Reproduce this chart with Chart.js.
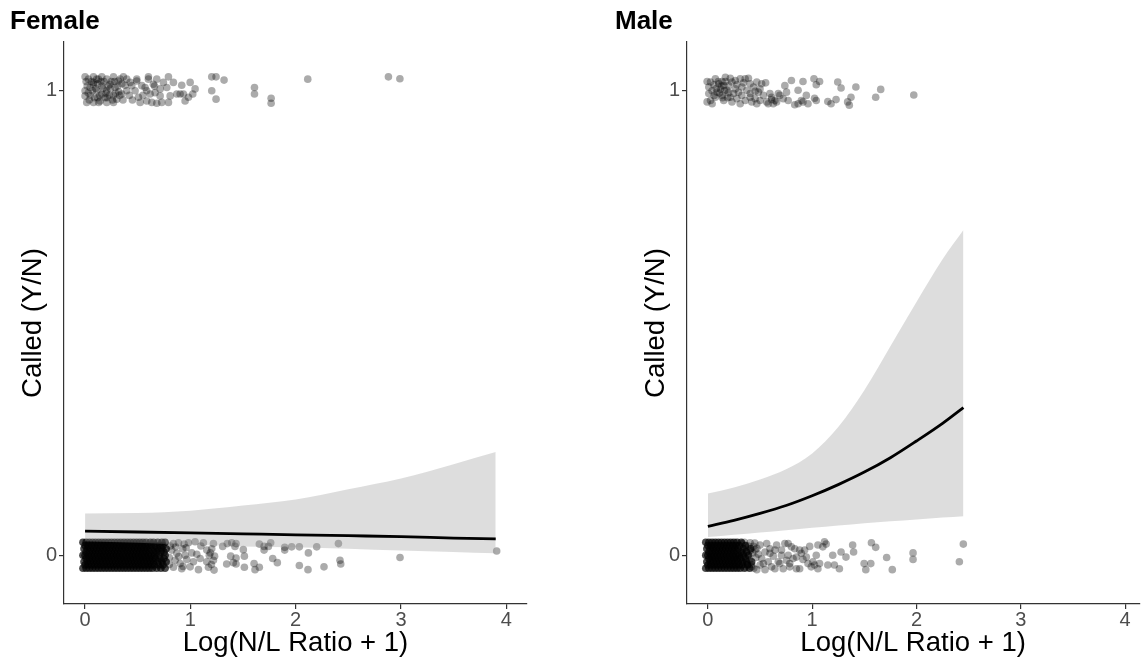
<!DOCTYPE html>
<html><head><meta charset="utf-8">
<script src="https://cdn.jsdelivr.net/npm/chart.js@4.4.1/dist/chart.umd.min.js"></script>
<style>
html,body{margin:0;padding:0;background:#fff;width:1143px;height:663px;overflow:hidden}
.panel{position:absolute;top:0;height:663px}
#p1{left:0;width:571px}
#p2{left:605px;width:538px}
</style></head><body>
<div class="panel" id="p1"><canvas id="c1"></canvas></div>
<div class="panel" id="p2"><canvas id="c2"></canvas></div>
<script>
// ---------- tick labels / titles ----------
const panelTitles = ["Female", "Male"];
const xTitle = "Log(N/L Ratio + 1)";
const yTitle = "Called (Y/N)";
const xTicks = [0, 1, 2, 3, 4];
const yTicks = [0, 1];

// ---------- fitted logistic curves ----------
const femaleFitX = [0, 0.5, 1, 1.5, 2, 2.5, 3, 3.5, 3.9];
const femaleFit  = [0.052, 0.050, 0.048, 0.046, 0.044, 0.042, 0.040, 0.037, 0.035];
const femaleUpper= [0.090, 0.091, 0.096, 0.107, 0.120, 0.142, 0.165, 0.196, 0.222];
const femaleLower= [0.030, 0.027, 0.023, 0.019, 0.017, 0.014, 0.010, 0.007, 0.004];

const maleFitX = [0, 0.25, 0.5, 0.75, 1, 1.25, 1.5, 1.75, 2, 2.25, 2.45];
const maleFit  = [0.062, 0.075, 0.090, 0.107, 0.128, 0.152, 0.179, 0.210, 0.246, 0.284, 0.318];
const maleUpper= [0.133, 0.146, 0.163, 0.185, 0.219, 0.276, 0.355, 0.450, 0.545, 0.637, 0.700];
const maleLower= [0.039, 0.044, 0.049, 0.054, 0.059, 0.064, 0.069, 0.073, 0.077, 0.081, 0.084];

// ---------- jittered observations ----------
// Female, called = 0, dense core (rows of jittered y, x positions per row)
const femaleNoCoreY = [-0.028, -0.021, -0.014, -0.007, 0, 0.007, 0.014, 0.021, 0.028];
const femaleNoCoreX = [
  [-0.02,0.01,0.04,0.07,0.10,0.13,0.16,0.19,0.22,0.25,0.28,0.31,0.34,0.37,0.40,0.43,0.46,0.49,0.52,0.55,0.58,0.61,0.64,0.68,0.72,0.76],
  [0.00,0.03,0.06,0.09,0.12,0.15,0.18,0.21,0.24,0.27,0.30,0.33,0.36,0.39,0.42,0.45,0.48,0.51,0.54,0.57,0.60,0.63,0.66,0.70,0.74],
  [-0.01,0.02,0.05,0.08,0.11,0.14,0.17,0.20,0.23,0.26,0.29,0.32,0.35,0.38,0.41,0.44,0.47,0.50,0.53,0.56,0.59,0.62,0.65,0.69,0.73,0.77],
  [0.01,0.04,0.07,0.10,0.13,0.16,0.19,0.22,0.25,0.28,0.31,0.34,0.37,0.40,0.43,0.46,0.49,0.52,0.55,0.58,0.61,0.64,0.67,0.71,0.75],
  [-0.02,0.00,0.03,0.06,0.09,0.12,0.15,0.18,0.21,0.24,0.27,0.30,0.33,0.36,0.39,0.42,0.45,0.48,0.51,0.54,0.57,0.60,0.63,0.66,0.70,0.76],
  [0.01,0.04,0.07,0.10,0.13,0.16,0.19,0.22,0.25,0.28,0.31,0.34,0.37,0.40,0.43,0.46,0.49,0.52,0.55,0.58,0.61,0.65,0.68,0.72,0.75],
  [-0.01,0.02,0.05,0.08,0.11,0.14,0.17,0.20,0.23,0.26,0.29,0.32,0.35,0.38,0.41,0.44,0.47,0.50,0.53,0.56,0.59,0.62,0.66,0.69,0.73,0.77],
  [0.00,0.03,0.06,0.09,0.12,0.15,0.18,0.21,0.24,0.27,0.30,0.33,0.36,0.39,0.42,0.45,0.48,0.51,0.54,0.57,0.60,0.63,0.67,0.71,0.74],
  [-0.02,0.01,0.04,0.07,0.10,0.13,0.16,0.19,0.22,0.25,0.28,0.31,0.34,0.37,0.40,0.43,0.46,0.49,0.52,0.55,0.58,0.62,0.65,0.69,0.73,0.76]
];
// Female, called = 0, scattered points
const femaleNoPts = [
  [0.839,0.025],[0.887,0.027],[0.941,0.024],[0.982,0.027],[1.045,0.029],[1.124,0.027],[1.219,0.025],
  [0.823,0.011],[0.871,0.004],[0.928,0.014],[1.013,0.005],[1.061,0.002],[1.156,0.011],[1.203,0.014],
  [0.855,-0.011],[0.903,-0.018],[0.966,-0.009],[1.029,-0.014],[1.093,-0.007],[1.156,-0.014],[1.219,-0.011],
  [0.839,-0.026],[0.918,-0.029],[0.998,-0.025],[1.077,-0.031],[1.172,-0.026],[1.225,-0.032],
  [0.80,-0.005],[0.81,0.020],[0.80,-0.020],[0.86,0.018],[0.89,-0.003],[0.95,0.000],[0.93,-0.024],
  [1.18,0.000],[1.19,0.005],[1.20,-0.020],[1.10,0.020],[1.23,-0.002],[0.96,0.016],
  [1.307,0.019],[1.351,0.025],[1.393,0.027],[1.434,0.025],[1.424,0.019],[1.503,0.012],
  [1.383,-0.002],[1.434,-0.006],[1.408,-0.016],[1.513,-0.002],[1.345,-0.019],[1.434,-0.019],[1.513,-0.026],
  [1.605,-0.018],[1.614,-0.031],[1.655,-0.026],[1.655,0.024],[1.700,0.019],[1.700,0.011],[1.763,0.027],[1.741,0.019],
  [1.782,-0.007],[1.826,-0.016],[1.896,0.017],[1.896,0.011],[1.962,0.018],[2.035,0.018],[2.121,0.005],[2.200,0.018],
  [2.035,-0.022],[2.117,-0.031],[2.269,-0.025],[2.406,0.025],[2.421,-0.011],[2.428,-0.019],
  [2.991,-0.005],[3.909,0.009]
];
// Female, called = 1
const femaleYesPts = [
  [0.000,1.030],[0.032,1.025],[0.080,1.030],[0.127,1.025],[0.159,1.030],[0.206,1.025],[0.270,1.030],[0.333,1.025],
  [0.364,1.030],[0.491,1.025],[0.602,1.030],[0.681,1.025],[0.792,1.030],
  [0.839,1.018],[0.918,1.012],[0.998,1.018],[1.045,1.004],[1.023,0.993],[0.950,0.978],[0.903,0.993],[0.808,0.989],
  [0.792,0.975],[0.728,0.975],[0.681,0.973],[0.634,0.975],[0.586,0.978],[0.523,0.975],[0.507,0.986],[0.475,1.000],
  [0.444,1.011],[0.396,1.000],[0.349,0.993],[0.301,0.982],[0.270,0.975],[0.206,0.975],[0.143,0.978],[0.080,0.975],
  [0.016,0.975],[0.000,0.989],[0.000,1.000],[0.048,1.007],[0.080,1.014],[0.111,1.000],[0.159,0.993],[0.206,1.000],
  [0.238,1.014],[0.285,1.007],[0.317,1.021],[0.396,1.025],[0.428,1.018],[0.491,1.021],[0.539,1.011],[0.586,1.000],
  [0.618,0.993],[0.665,0.996],[0.713,0.989],[0.713,1.004],[0.649,1.014],[0.602,1.025],[0.570,1.007],[0.744,1.018],
  [0.776,1.007],[0.871,0.993],[0.934,0.993],[0.982,0.986],
  [0.02,1.010],[0.05,0.990],[0.06,1.020],[0.09,0.985],[0.10,1.005],[0.12,1.015],[0.14,0.990],[0.17,1.005],
  [0.18,1.020],[0.19,0.985],[0.22,1.010],[0.23,0.990],[0.25,1.020],[0.26,0.980],[0.29,0.995],[0.31,1.010],
  [0.33,0.990],[0.35,1.015],[0.04,0.980],[0.13,0.975],[0.01,1.020],[0.11,1.025],[0.16,1.010],[0.21,0.985],
  [0.42,0.990],[0.45,0.980],[0.55,0.990],[0.66,1.010],
  [0.03,0.995],[0.07,1.000],[0.15,1.020],[0.20,0.995],[0.24,1.005],[0.28,1.020],[0.32,0.998],[0.38,1.012],
  [0.08,1.018],[0.12,0.985],[0.27,0.990],[0.36,0.980],
  [1.203,1.030],[1.244,1.030],[1.320,1.023],[1.203,1.000],[1.244,0.982],[1.609,1.007],[1.609,0.993],
  [1.767,0.984],[1.767,0.973],[2.115,1.025],[2.881,1.030],[2.990,1.026]
];

// Male, called = 0, dense core
const maleNoCoreY = [-0.028, -0.021, -0.014, -0.007, 0, 0.007, 0.014, 0.021, 0.028];
const maleNoCoreX = [
  [-0.02,0.01,0.04,0.07,0.10,0.13,0.16,0.19,0.22,0.25,0.28,0.31,0.35,0.40],
  [0.00,0.03,0.06,0.09,0.12,0.15,0.18,0.21,0.24,0.27,0.30,0.33,0.38],
  [-0.01,0.02,0.05,0.08,0.11,0.14,0.17,0.20,0.23,0.26,0.29,0.33,0.37,0.42],
  [0.01,0.04,0.07,0.10,0.13,0.16,0.19,0.22,0.25,0.28,0.31,0.36],
  [-0.02,0.00,0.03,0.06,0.09,0.12,0.15,0.18,0.21,0.24,0.27,0.30,0.34,0.39],
  [0.01,0.04,0.07,0.10,0.13,0.16,0.19,0.22,0.25,0.28,0.32,0.37],
  [-0.01,0.02,0.05,0.08,0.11,0.14,0.17,0.20,0.23,0.26,0.29,0.34,0.41],
  [0.00,0.03,0.06,0.09,0.12,0.15,0.18,0.21,0.24,0.27,0.30,0.36],
  [-0.02,0.01,0.04,0.07,0.10,0.13,0.16,0.19,0.22,0.25,0.28,0.32]
];
// Male, called = 0, scattered points
const maleNoPts = [
  [0.33,0.025],[0.34,0.005],[0.35,-0.015],[0.36,0.015],[0.37,-0.027],[0.38,0.000],[0.39,0.020],[0.40,-0.010],
  [0.41,0.010],[0.42,-0.020],[0.43,0.005],[0.44,-0.028],[0.35,0.028],[0.38,-0.020],[0.32,-0.005],[0.46,-0.005],
  [0.47,0.015],[0.45,0.026],
  [0.405,0.027],[0.437,0.019],[0.484,0.002],[0.500,0.022],[0.532,-0.018],[0.564,0.025],[0.595,0.014],[0.627,-0.002],
  [0.659,0.022],[0.675,-0.014],[0.706,0.011],[0.738,0.025],[0.770,0.000],[0.785,-0.018],[0.801,0.018],[0.833,0.014],
  [0.849,-0.029],[0.880,-0.029],[0.896,0.004],[0.912,-0.009],[0.928,0.011],[0.960,-0.018],[0.976,0.019],[1.007,-0.014],
  [1.039,0.000],[1.055,0.022],[1.071,-0.018],[1.102,0.018],[1.118,0.029],[1.134,0.024],[1.150,-0.021],[1.197,0.000],
  [1.213,-0.021],[1.261,-0.029],[1.277,0.007],[1.324,-0.004],[1.388,0.022],[1.397,0.007],[1.498,-0.018],[1.514,-0.031],
  [1.562,-0.018],[1.568,0.027],[1.609,0.017],[1.714,-0.005],[1.768,-0.031],[1.967,0.005],[1.967,-0.009],
  [2.411,-0.014],[2.449,0.024],
  [0.453,0.011],[0.516,-0.007],[0.548,0.007],[0.579,-0.014],[0.611,-0.025],[0.643,-0.029],[0.690,-0.018],[0.722,-0.029],
  [0.754,-0.011],[0.785,-0.025],[0.817,-0.007],[0.548,-0.031],[0.421,-0.025],[0.469,-0.031],[0.500,-0.021],[0.595,0.004],
  [0.643,0.011],[0.706,0.000],[0.770,0.025],[0.849,-0.004],[0.880,0.011],[0.944,-0.004],[0.991,-0.025],[1.023,-0.021],
  [1.055,-0.029]
];
// Male, called = 1
const maleYesPts = [
  [-0.007,1.020],[0.009,1.008],[0.057,1.013],[0.104,1.015],[0.136,1.020],[0.168,1.029],[0.215,1.027],[0.263,1.022],
  [0.310,1.026],[0.342,1.017],[0.389,1.027],[0.405,1.015],[0.437,1.008],[0.453,0.999],[0.484,0.997],[0.500,1.004],
  [0.532,0.990],[0.554,1.017],[0.595,0.994],[0.643,0.979],[0.675,0.994],[0.722,0.983],[0.738,1.011],[0.754,0.997],
  [0.801,1.022],[0.865,1.001],[0.912,1.020],[0.944,0.990],[1.017,1.026],[1.039,1.013],[1.071,1.020],[0.912,0.976],
  [0.865,0.972],[0.833,0.970],[0.896,0.979],[0.960,0.972],[1.039,0.979],[1.023,0.984],[1.150,0.977],[1.181,0.972],
  [1.229,0.981],[1.245,1.019],[1.277,1.006],[1.340,0.976],[1.356,0.969],[1.372,0.986],[1.419,1.008],[1.609,0.986],
  [1.657,1.003],[1.974,0.991],
  [0.009,0.994],[0.025,0.979],[0.041,0.972],[0.072,0.986],[0.088,0.997],[0.120,1.004],[0.136,0.990],[0.152,0.979],
  [0.183,1.001],[0.199,1.011],[0.215,0.986],[0.231,0.976],[0.247,0.994],[0.263,1.004],[0.278,0.983],[0.294,0.997],
  [0.310,0.972],[0.326,0.990],[0.358,0.979],[0.374,1.001],[0.405,0.986],[0.421,0.976],[0.453,0.983],[0.469,0.972],
  [0.500,0.979],[0.516,1.015],[0.564,0.976],[0.579,0.972],[0.611,0.986],[0.627,0.972],[0.659,0.976],[0.690,0.990],
  [0.770,0.979],[-0.007,0.976],[0.025,1.019],[0.072,1.026],[0.152,1.011],[0.199,0.996],[0.231,1.019],[0.278,1.013],
  [0.326,1.008],[0.358,1.026],[0.405,0.994],[0.469,1.019],[0.611,0.981],
  [0.08,1.005],[0.11,0.995],[0.13,1.010],[0.16,1.000],[0.19,0.985],[0.10,1.020],[0.06,0.990],[0.14,0.985],
  [0.17,1.020],[0.04,1.000]
];

// ---------- helpers that turn the tables into Chart.js data ----------
function rowsToXY(ys, xrows) {
  const out = [];
  xrows.forEach((row, i) => row.forEach(x => out.push({x: x, y: ys[i]})));
  return out;
}
function pairsToXY(pairs) { return pairs.map(p => ({x: p[0], y: p[1]})); }
function seriesToXY(xs, ys) { return xs.map((x, i) => ({x: x, y: ys[i]})); }

const FONT = "'Liberation Sans', Arial, Helvetica, sans-serif";
Chart.defaults.font.family = FONT;

function makePanel(canvasId, title, core, pts, yes, fitX, fit, up, lo, opts) {
  const ptStyle = {type: 'line', showLine: false, pointRadius: 3.8, pointBorderWidth: 0,
                   pointHoverRadius: 0, order: 4};
  return new Chart(document.getElementById(canvasId), {
    type: 'line',
    data: {
      datasets: [
        Object.assign({data: rowsToXY(core.y, core.x), pointBackgroundColor: 'rgba(0,0,0,0.7)'}, ptStyle),
        Object.assign({data: pairsToXY(pts), pointBackgroundColor: 'rgba(0,0,0,0.33)'}, ptStyle),
        Object.assign({data: pairsToXY(yes), pointBackgroundColor: 'rgba(0,0,0,0.33)'}, ptStyle),
        {type: 'line', data: seriesToXY(fitX, up), borderWidth: 0, pointRadius: 0,
         backgroundColor: 'rgba(153,153,153,0.33)', fill: '+1', cubicInterpolationMode: 'monotone', order: 2},
        {type: 'line', data: seriesToXY(fitX, lo), borderWidth: 0, pointRadius: 0,
         fill: false, cubicInterpolationMode: 'monotone', order: 2},
        {type: 'line', data: seriesToXY(fitX, fit), borderColor: '#000', borderWidth: 2.8, pointRadius: 0,
         fill: false, cubicInterpolationMode: 'monotone', order: 1}
      ]
    },
    options: {
      responsive: true, maintainAspectRatio: false, animation: false, devicePixelRatio: 1,
      events: [],
      layout: {padding: {left: 10, right: opts.padRight, top: 0, bottom: 0}},
      plugins: {
        legend: {display: false}, tooltip: {enabled: false},
        title: {display: true, text: title, align: 'start', color: '#000',
                font: {size: 26, weight: 'bold', family: FONT}, padding: {top: 6.7, bottom: 4.1}}
      },
      scales: {
        x: {
          type: 'linear', min: -0.2, max: opts.xMax,
          afterBuildTicks: s => { s.ticks = xTicks.map(v => ({value: v})); },
          afterFit: s => { s.height = 59; },
          ticks: {color: '#4d4d4d', font: {size: 20, family: FONT}, padding: -1, maxRotation: 0, autoSkip: false},
          grid: {drawOnChartArea: false, drawTicks: true, tickLength: 5, color: '#333333', lineWidth: 1.2},
          border: {display: true, color: '#333333', width: 1.2},
          title: {display: true, text: xTitle, color: '#000', font: {size: 27.5, family: FONT},
                  padding: {top: 0, bottom: 3}}
        },
        y: {
          type: 'linear', min: -0.105, max: 1.105,
          afterBuildTicks: s => { s.ticks = yTicks.map(v => ({value: v})); },
          afterFit: s => { s.width = opts.yWidth; },
          ticks: {color: '#4d4d4d', font: {size: 20, family: FONT}, padding: 2},
          grid: {drawOnChartArea: false, drawTicks: true, tickLength: 5, color: '#333333', lineWidth: 1.2},
          border: {display: true, color: '#333333', width: 1.2},
          title: {display: true, text: yTitle, color: '#000', font: {size: 27.5, family: FONT},
                  padding: {top: opts.yTitlePad, bottom: 0}}
        }
      }
    }
  });
}

makePanel('c1', panelTitles[0], {y: femaleNoCoreY, x: femaleNoCoreX}, femaleNoPts, femaleYesPts,
          femaleFitX, femaleFit, femaleUpper, femaleLower,
          {padRight: 44, xMax: 4.197, yWidth: 54, yTitlePad: 6.5});
makePanel('c2', panelTitles[1], {y: maleNoCoreY, x: maleNoCoreX}, maleNoPts, maleYesPts,
          maleFitX, maleFit, maleUpper, maleLower,
          {padRight: 0, xMax: 4.135, yWidth: 72, yTitlePad: 24.5});
</script>
</body></html>
